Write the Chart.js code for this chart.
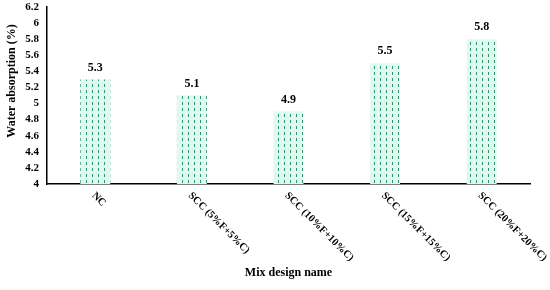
<!DOCTYPE html>
<html>
<head>
<meta charset="utf-8">
<script src="https://cdn.jsdelivr.net/npm/chart.js@4"></script>
<style>
  html, body { margin: 0; padding: 0; background: #fff; }
  #c { display: block; }
</style>
</head>
<body>
<canvas id="c" width="550" height="290"></canvas>
<script>
const mixNames = ['NC', 'SCC (5%F+5%C)', 'SCC (10%F+10%C)', 'SCC (15%F+15%C)', 'SCC (20%F+20%C)'];
const absorption = [5.3, 5.1, 4.9, 5.5, 5.8];
const yTicks = [4, 4.2, 4.4, 4.6, 4.8, 5, 5.2, 5.4, 5.6, 5.8, 6, 6.2];

const FONT = '"Liberation Serif", "Times New Roman", serif';

// dashed green stripes on a pale mint ground
const makePattern = () => {
  const p = document.createElement('canvas');
  p.width = 6; p.height = 6;
  const g = p.getContext('2d');
  g.fillStyle = '#e0f8f3';
  g.fillRect(0, 0, 6, 6);
  g.fillStyle = '#2f9563';
  g.fillRect(2, 0, 1, 3);
  return g.createPattern(p, 'repeat');
};

// value labels, rotated category labels and the y title
const labelsPlugin = {
  id: 'labels',
  afterDatasetsDraw(chart) {
    const ctx = chart.ctx;
    const meta = chart.getDatasetMeta(0);
    const xs = chart.scales.x;
    ctx.save();
    ctx.fillStyle = '#000';
    ctx.font = 'bold 12px ' + FONT;
    ctx.textAlign = 'center';
    ctx.textBaseline = 'bottom';
    meta.data.forEach((bar, i) => {
      ctx.fillText(absorption[i].toFixed(1), bar.x, bar.y - 6);
    });
    ctx.font = 'bold 10.5px ' + FONT;
    ctx.textAlign = 'left';
    ctx.textBaseline = 'middle';
    mixNames.forEach((name, i) => {
      const x = xs.getPixelForValue(i);
      ctx.save();
      ctx.translate(x - 2, xs.top + 10);
      ctx.rotate(Math.PI / 4);
      ctx.fillText(name, 0, 0);
      ctx.restore();
    });
    // y axis title sits above the centre in the original
    ctx.font = 'bold 12px ' + FONT;
    ctx.textAlign = 'center';
    ctx.translate(12, 81);
    ctx.rotate(-Math.PI / 2);
    ctx.fillText('Water absorption (%)', 0, 0);
    ctx.restore();
  }
};

new Chart(document.getElementById('c'), {
  type: 'bar',
  data: {
    labels: mixNames,
    datasets: [{
      data: absorption,
      backgroundColor: makePattern(),
      borderWidth: 0,
      barPercentage: 0.31,
      categoryPercentage: 1
    }]
  },
  options: {
    responsive: false,
    animation: false,
    layout: { padding: { top: 7, right: 20, left: 0, bottom: 10 } },
    plugins: { legend: { display: false }, tooltip: { enabled: false } },
    scales: {
      x: {
        grid: { display: false, drawTicks: false },
        border: { color: '#000', width: 1.5 },
        ticks: { display: false },
        title: {
          display: true,
          text: 'Mix design name',
          color: '#000',
          font: { family: FONT, size: 12, weight: 'bold' },
          padding: 0
        },
        afterFit(s) { s.height = 96; }
      },
      y: {
        min: 4,
        max: 6.2,
        afterBuildTicks(s) { s.ticks = yTicks.map(v => ({ value: v })); },
        grid: { display: false, drawTicks: false },
        border: { color: '#000', width: 1.5 },
        ticks: {
          color: '#000',
          padding: 8,
          autoSkip: false,
          font: { family: FONT, size: 11, weight: 'bold' },
          callback: v => String(Number(v.toFixed(1)))
        },
        afterFit(s) {
          s.width = 47;
          s.paddingTop = 0;
          s.paddingBottom = 0;
        }
      }
    }
  },
  plugins: [labelsPlugin]
});
</script>
</body>
</html>
